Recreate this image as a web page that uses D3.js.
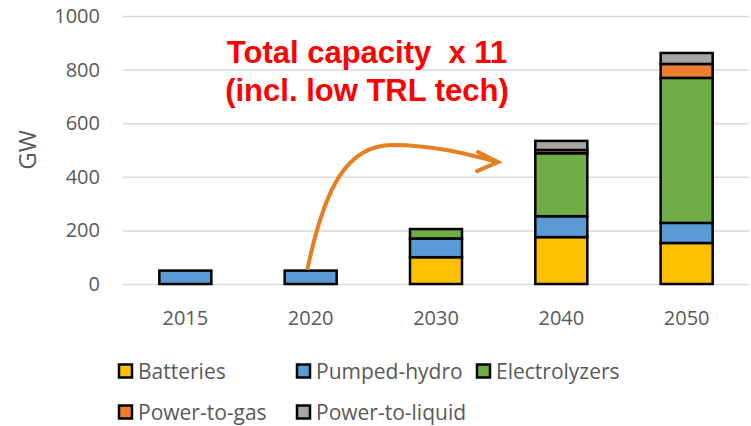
<!DOCTYPE html>
<html><head><meta charset="utf-8">
<script src="https://cdn.jsdelivr.net/npm/d3@7"></script>
<style>body{margin:0;background:#fff}svg{display:block}text{white-space:pre}</style>
</head><body><svg id="c" width="751" height="426"></svg>
<script>
const years = ["2015","2020","2030","2040","2050"];
const seriesNames = ["Batteries","Pumped-hydro","Electrolyzers","Power-to-gas","Power-to-liquid"];
const batteries     = [0, 0, 100, 175, 153];
const pumpedHydro   = [50, 50, 70, 78, 75];
const electrolyzers = [0, 0, 35, 235, 541];
const powerToGas    = [0, 0, 0, 12, 52];
const powerToLiquid = [0, 0, 0, 34, 41];
const colors = ["#FFC000","#5B9BD5","#70AD47","#ED7D31","#A5A5A5"];
const yTicks = [0,200,400,600,800,1000];
const titleLines = ["Total capacity  x 11","(incl. low TRL tech)"];

const svg = d3.select("#c");
const x = d3.scaleBand().domain(years).range([123,749]).paddingInner(0.585).paddingOuter(0.29);
const y = d3.scaleLinear().domain([0,1000]).range([284,16]);
const gray = "#595959";
const font = "'Open Sans', Lato, sans-serif";

// grid
svg.append("g").selectAll("line").data(yTicks).join("line")
  .attr("x1",123).attr("x2",749).attr("y1",d=>y(d)+0.5).attr("y2",d=>y(d)+0.5)
  .attr("stroke","#d9d9d9").attr("stroke-width",1.5);

// y tick labels
const yAxis = svg.append("g").attr("transform","translate(100,0)")
  .call(d3.axisLeft(y).tickValues(yTicks).tickFormat(d3.format("d")).tickSize(0).tickPadding(0));
yAxis.select(".domain").remove();
yAxis.selectAll("text").attr("font-family",font).attr("font-size",20).attr("fill",gray);

// x tick labels
const xAxis = svg.append("g").attr("transform","translate(0,284)")
  .call(d3.axisBottom(x).tickSize(0).tickPadding(34));
xAxis.select(".domain").remove();
xAxis.selectAll("text").attr("dy","0.35em").attr("font-family",font).attr("font-size",20).attr("fill",gray);

// y title
svg.append("text").attr("transform","translate(28,150) rotate(-90)")
  .attr("text-anchor","middle").attr("dy","0.35em").attr("font-family",font).attr("font-size",24).attr("fill",gray).text("GW");

// stacked data
const table = years.map((yr,i)=>({year:yr,"Batteries":batteries[i],"Pumped-hydro":pumpedHydro[i],
  "Electrolyzers":electrolyzers[i],"Power-to-gas":powerToGas[i],"Power-to-liquid":powerToLiquid[i]}));
const stack = d3.stack().keys(seriesNames)(table);
const color = d3.scaleOrdinal().domain(seriesNames).range(colors);

svg.append("g").selectAll("g").data(stack).join("g").attr("fill",d=>color(d.key))
  .selectAll("rect").data(d=>d.filter(p=>p[1]-p[0]>0)).join("rect")
  .attr("x",d=>x(d.data.year)).attr("width",x.bandwidth())
  .attr("y",d=>y(d[1])).attr("height",d=>y(d[0])-y(d[1]))
  .attr("stroke","#000").attr("stroke-width",2.5);

// annotation text
svg.append("g").selectAll("text").data(titleLines).join("text")
  .attr("x",367).attr("y",(d,i)=>63+i*38).attr("text-anchor","middle")
  .attr("font-family","'Liberation Sans', Arial, sans-serif").attr("font-weight","bold")
  .attr("font-size",31).attr("fill","#FF0000").text(d=>d);

// arrow (anchored to data positions)
const sx = x("2020")+x.bandwidth()/2, sy = y(60);
const ex = x("2030")+x.bandwidth()+36, ey = y(455);
const path = d3.path();
path.moveTo(sx-3, sy);
path.bezierCurveTo(sx+14, sy-80, sx+36, sy-123, sx+82, sy-123);
path.bezierCurveTo(sx+122, sy-123, ex-30, ey-8, ex, ey);
svg.append("path").attr("d",path.toString()).attr("fill","none")
  .attr("stroke","#E67E22").attr("stroke-width",4).attr("stroke-linecap","round");
svg.append("path").attr("d",`M${ex-20},${ey-10} L${ex},${ey} L${ex-21},${ey+9}`)
  .attr("fill","none").attr("stroke","#E67E22").attr("stroke-width",4)
  .attr("stroke-linecap","round").attr("stroke-linejoin","miter");

// legend
const legendPos = [[119,371],[297,371],[477,371],[119,412],[297,412]];
const lg = svg.append("g").selectAll("g").data(seriesNames).join("g")
  .attr("transform",(d,i)=>`translate(${legendPos[i][0]},${legendPos[i][1]})`);
lg.append("rect").attr("x",0).attr("y",-6.5).attr("width",13).attr("height",13)
  .attr("fill",d=>color(d)).attr("stroke","#000").attr("stroke-width",2.5);
lg.append("text").attr("x",19).attr("y",0).attr("dy","0.36em")
  .attr("font-family",font).attr("font-size",21).attr("fill",gray).text(d=>d);
</script></body></html>
